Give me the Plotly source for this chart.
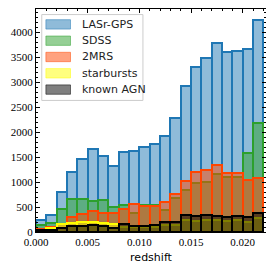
import plotly.graph_objects as go

bin_width = 0.001
bin_left = [i * 0.001 for i in range(22)]

lasr_gps = [245, 350, 800, 1200, 1470, 1655, 1520, 1320, 1610, 1630, 1705, 1755,
            1925, 2275, 2920, 3300, 3490, 3790, 3595, 3615, 3665, 4250]
sdss = [150, 190, 470, 660, 665, 620, 645, 500, 550, 380, 545, 545,
        450, 675, 840, 990, 1010, 1170, 1100, 1110, 1573, 2187]
twomrs = [70, 95, 170, 300, 360, 430, 390, 375, 470, 565, 530, 530,
          600, 760, 1027, 1207, 1250, 1337, 1180, 1180, 1047, 1087]
starbursts = [50, 85, 160, 180, 195, 200, 185, 160, 110, 95, 95, 110,
              150, 140, 240, 230, 250, 235, 220, 235, 210, 280]
known_agn = [35, 40, 90, 130, 125, 140, 120, 85, 155, 130, 130, 150,
             205, 195, 335, 320, 350, 330, 305, 325, 295, 385]

series = [
    ("LASr-GPS", lasr_gps, "rgba(31,119,180,0.5)", "#1f77b4"),
    ("SDSS", sdss, "rgba(44,160,44,0.5)", "#2ca02c"),
    ("2MRS", twomrs, "rgba(255,69,0,0.5)", "#ff4500"),
    ("starbursts", starbursts, "rgba(255,255,0,0.5)", "#ffff00"),
    ("known AGN", known_agn, "rgba(0,0,0,0.5)", "#000000"),
]

centers = [b + bin_width / 2 for b in bin_left]

fig = go.Figure()
for name, vals, fill, edge in series:
    fig.add_trace(go.Bar(
        x=centers, y=vals, width=bin_width, name=name,
        marker=dict(color=fill, line=dict(color=edge, width=2)),
        showlegend=False,
    ))

# manual legend (matplotlib style)
lx0, lx1, ly_top = 0.025, 0.465, 0.975
row_h = 16.3 / 223
shapes = [dict(type="rect", xref="paper", yref="paper",
               x0=lx0, x1=lx1, y0=ly_top - 0.385, y1=ly_top,
               line=dict(color="#cccccc", width=1), fillcolor="rgba(255,255,255,0.8)")]
annotations = []
for i, (name, vals, fill, edge) in enumerate(series):
    yc = ly_top - 0.044 - i * row_h
    shapes.append(dict(type="rect", xref="paper", yref="paper",
                       x0=0.043, x1=0.150, y0=yc - 0.021, y1=yc + 0.021,
                       line=dict(color=fill, width=1),
                       fillcolor=fill))
    annotations.append(dict(xref="paper", yref="paper", x=0.19, y=yc,
                            text=name, showarrow=False, xanchor="left",
                            yanchor="middle",
                            font=dict(family="DejaVu Sans", size=11, color="#222")))

axis_common = dict(
    showline=True, linecolor="black", linewidth=1.2, mirror="allticks",
    ticks="inside", ticklen=4, tickwidth=1, tickcolor="black",
    showgrid=False, zeroline=False, automargin=False,
    tickfont=dict(family="Liberation Serif", size=11, color="black"),
)

# the page body adds an 8px offset, so the figure is sized to compensate
fig.update_layout(
    width=266, height=263,
    margin=dict(l=28, r=8, t=1, b=39),
    plot_bgcolor="white", paper_bgcolor="white",
    barmode="overlay", bargap=0,
    shapes=shapes, annotations=annotations,
    xaxis=dict(range=[0, 0.02225], tickvals=[0, 0.005, 0.010, 0.015, 0.020],
               ticktext=["0.000", "0.005", "0.010", "0.015", "0.020"],
               minor=dict(ticks="inside", ticklen=2, dtick=0.001, tick0=0,
                          tickcolor="black"),
               title=dict(text="redshift", standoff=6,
                          font=dict(family="DejaVu Sans", size=11, color="black")),
               **axis_common),
    yaxis=dict(range=[0, 4460], tickvals=[0, 500, 1000, 1500, 2000, 2500, 3000, 3500, 4000],
               minor=dict(ticks="inside", ticklen=2, dtick=100, tick0=0,
                          tickcolor="black"),
               **axis_common),
)

fig.write_html("out.html")
